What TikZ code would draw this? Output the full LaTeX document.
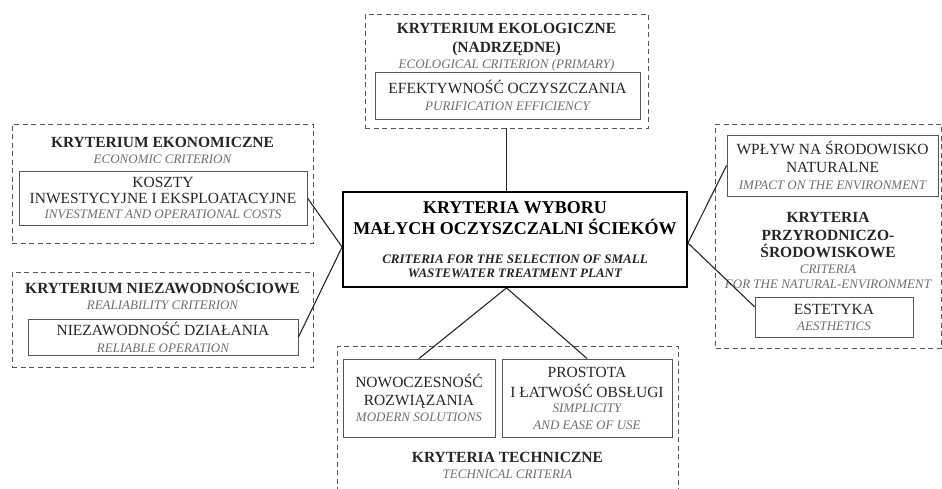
\documentclass[tikz,border=0pt]{standalone}
\usepackage{fontspec}
\setmainfont{Liberation Serif}
\usetikzlibrary{calc}

\definecolor{ink}{HTML}{262626}
\definecolor{engray}{HTML}{6E6E6E}
\definecolor{framegray}{HTML}{555555}

% text macros
\newcommand{\pltxt}[1]{{\fontsize{15.5}{17}\selectfont\color{ink}#1}}
\newcommand{\pltitle}[1]{{\fontsize{15.5}{17}\selectfont\bfseries\color{ink}#1}}
\newcommand{\entxt}[1]{{\fontsize{13}{15}\selectfont\itshape\color{engray}#1}}
\newcommand{\maintxt}[1]{{\fontsize{18}{21}\selectfont\bfseries#1}}
\newcommand{\mainen}[1]{{\fontsize{13}{14}\selectfont\bfseries\itshape\color{ink}#1}}

\tikzset{
  critbox/.style={draw=framegray, line width=0.9pt, align=center, inner sep=0pt,
    font=\fontsize{15.5}{17}\selectfont},
  groupbox/.style={draw=framegray, line width=0.9pt, dash pattern=on 5pt off 3.5pt, inner sep=0pt},
  mainbox/.style={draw=black, line width=1.8pt, align=center, inner sep=0pt,
    font=\fontsize{18}{21}\selectfont},
  grouptitle/.style={align=center, inner sep=0pt, font=\fontsize{15.5}{17}\selectfont},
  link/.style={draw=ink, line width=1.1pt}
}

\begin{document}
\begin{tikzpicture}[x=1pt, y=-1pt]
\useasboundingbox (0,0) rectangle (942,488);

% group frames
\node[groupbox, minimum width=283, minimum height=114] (eko) at (506.5,71) {};
\node[groupbox, minimum width=301, minimum height=119] (ekon) at (162.5,183.5) {};
\node[groupbox, minimum width=301, minimum height=95] (niez) at (162.5,319.5) {};
\node[groupbox, minimum width=226, minimum height=224] (przyr) at (828.5,236) {};
\draw[framegray, line width=0.9pt, dash pattern=on 5pt off 3.5pt]
  (337,492) -- (337,346) -- (678,346) -- (678,492);

% main node
\node[mainbox, minimum width=344, minimum height=95] (main) at (515,239.5)
  {\maintxt{KRYTERIA WYBORU}\\\maintxt{MAŁYCH OCZYSZCZALNI ŚCIEKÓW}\\[8pt]
   \mainen{CRITERIA FOR THE SELECTION OF SMALL}\\[-7pt]\mainen{WASTEWATER TREATMENT PLANT}};

% ecological criterion
\node[grouptitle] (ekotitle) at (506.5,47.5)
  {\pltitle{KRYTERIUM EKOLOGICZNE}\\[2pt]\pltitle{(NADRZĘDNE)}\\[-1pt]\entxt{ECOLOGICAL CRITERION (PRIMARY)}};
\node[critbox, minimum width=265, minimum height=47] (efekt) at (507.5,95.5)
  {\pltxt{EFEKTYWNOŚĆ OCZYSZCZANIA}\\\entxt{PURIFICATION EFFICIENCY}};

% economic criterion
\node[grouptitle] (ekontitle) at (162.5,150)
  {\pltitle{KRYTERIUM EKONOMICZNE}\\[-1pt]\entxt{ECONOMIC CRITERION}};
\node[critbox, minimum width=288, minimum height=54] (koszty) at (163,198)
  {\pltxt{KOSZTY}\\[-1.5pt]\pltxt{INWESTYCYJNE I EKSPLOATACYJNE}\\[-1.5pt]\entxt{INVESTMENT AND OPERATIONAL COSTS}};

% reliability criterion
\node[grouptitle] (nieztitle) at (162.5,295)
  {\pltitle{KRYTERIUM NIEZAWODNOŚCIOWE}\\[-1pt]\entxt{REALIABILITY CRITERION}};
\node[critbox, minimum width=270, minimum height=36] (dzial) at (163,337)
  {\pltxt{NIEZAWODNOŚĆ DZIAŁANIA}\\\entxt{RELIABLE OPERATION}};

% technical criteria
\node[critbox, minimum width=152, minimum height=78] (nowocz) at (419,398)
  {\pltxt{NOWOCZESNOŚĆ}\\[1pt]\pltxt{ROZWIĄZANIA}\\[-1pt]\entxt{MODERN SOLUTIONS}};
\node[critbox, minimum width=170, minimum height=78] (prost) at (587,398)
  {\pltxt{PROSTOTA}\\[3pt]\pltxt{I ŁATWOŚĆ OBSŁUGI}\\[-2pt]\entxt{SIMPLICITY}\\[0pt]\entxt{AND EASE OF USE}};
\node[grouptitle] (techtitle) at (507.5,465)
  {\pltitle{KRYTERIA TECHNICZNE}\\[-1pt]\entxt{TECHNICAL CRITERIA}};

% natural-environment criteria
\node[critbox, minimum width=211, minimum height=61] (wplyw) at (832.5,165.5)
  {\pltxt{WPŁYW NA ŚRODOWISKO}\\[1pt]\pltxt{NATURALNE}\\\entxt{IMPACT ON THE ENVIRONMENT}};
\node[grouptitle] (przyrtitle) at (828,250)
  {\pltitle{KRYTERIA}\\[1pt]\pltitle{PRZYRODNICZO-}\\\pltitle{ŚRODOWISKOWE}\\[-1pt]\entxt{CRITERIA}\\[-2pt]\entxt{FOR THE NATURAL-ENVIRONMENT}};
\node[critbox, minimum width=158, minimum height=40] (estet) at (834,317)
  {\pltxt{ESTETYKA}\\[-1pt]\entxt{AESTHETICS}};

% connectors
\coordinate (mainL) at ($(main.west)+(0,7.5)$);
\coordinate (mainR) at ($(main.east)+(0,3.5)$);
\coordinate (mainB) at (eko.south |- main.south);
\draw[link] (eko.south) -- (eko.south |- main.north);
\draw[link] (koszty.east) -- (mainL);
\draw[link] (dzial.east) -- (mainL);
\draw[link] (mainB) -- (nowocz.north);
\draw[link] (mainB) -- (prost.north);
\draw[link] (mainR) -- (wplyw.west);
\draw[link] (mainR) -- ($(estet.north west)!0.25!(estet.south west)$);

\end{tikzpicture}
\end{document}
